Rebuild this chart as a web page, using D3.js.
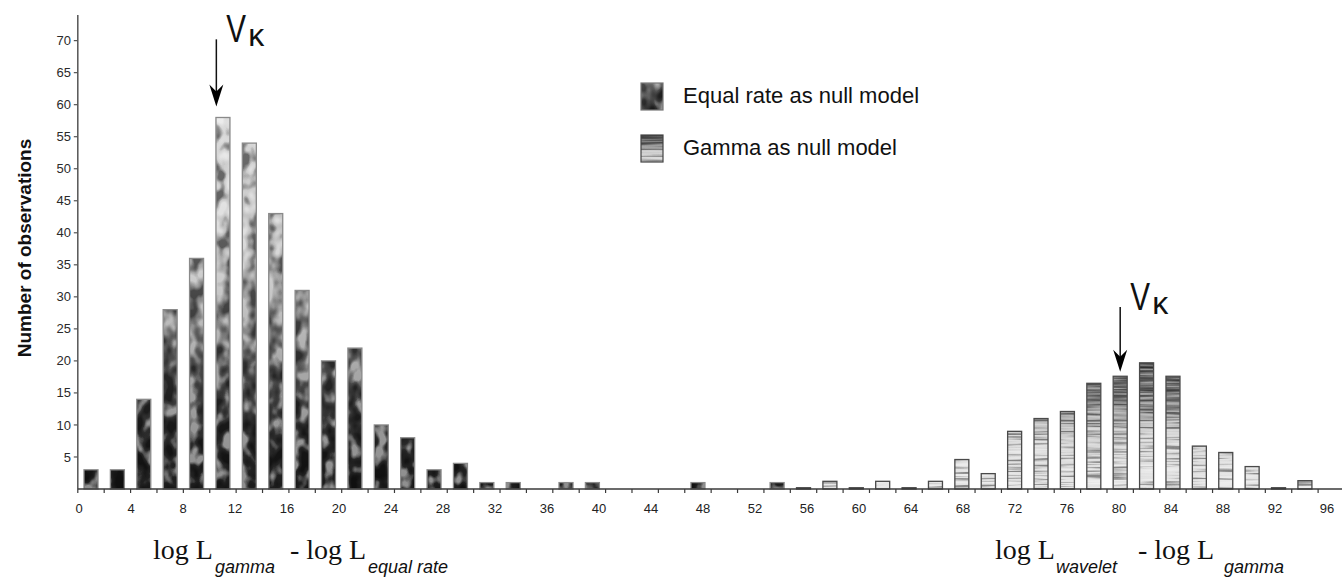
<!DOCTYPE html>
<html>
<head>
<meta charset="utf-8">
<script src="https://cdn.jsdelivr.net/npm/d3@7"></script>
<style>
  html, body { margin: 0; padding: 0; background: #fff; }
  svg { display: block; font-family: "Liberation Sans", Arial, sans-serif; }
</style>
</head>
<body>
<svg id="chart" width="1342" height="579"></svg>
<script>
// Histogram bins of width 2: bin i covers [2i, 2i + 2)
const binStarts = d3.range(0, 96, 2);

// log L(gamma) - log L(equal rate): counts for bins starting at 0
const equalRate = [3, 3, 14, 28, 36, 58, 54, 43, 31, 20, 22, 10, 8, 3, 4, 1, 1, 0, 1, 1, 0, 0, 0, 1, 0, 0, 1];

// log L(wavelet) - log L(gamma): counts for bins starting at bin index 27
const gammaStartBin = 27;
const gammaNull = [0.2, 1.2, 0.2, 1.2, 0.2, 1.2, 4.6, 2.4, 9, 11, 12.1, 16.5, 17.6, 19.7, 17.6, 6.7, 5.7, 3.5, 0.2, 1.3];

const yTickValues = d3.range(5, 75, 5);
const xLabelValues = d3.range(0, 97, 4);

const legendLabels = ["Equal rate as null model", "Gamma as null model"];

// V-kappa markers: position on the bin axis, arrow tip and arrow tail (count units)
const vKappaAt = [10.5, 79];
const vKappaTip = [59.7, 18.3];
const vKappaTail = [70.2, 28.4];

// ---------------------------------------------------------------------------
const W = 1342, H = 579;
const svg = d3.select("#chart");
const defs = svg.append("defs");

const y = d3.scaleLinear().domain([0, 74]).range([489, 15]);
// bar positions (bins) and printed tick labels use slightly different spacing
const xBin = d3.scaleLinear().domain([0, 96]).range([77.8, 1344.5]);
const xLab = d3.scaleLinear().domain([0, 96]).range([79, 1327]);

const bars = [];
binStarts.forEach((s, i) => {
  if (i < equalRate.length && equalRate[i] > 0) bars.push({ start: s, value: equalRate[i], series: "eq" });
  const g = i - gammaStartBin;
  if (g >= 0 && g < gammaNull.length && gammaNull[g] > 0) bars.push({ start: s, value: gammaNull[g], series: "gm" });
});

// --- fills -----------------------------------------------------------------
function addGradient(id, stops) {
  const top = stops[stops.length - 1][0];
  const g = defs.append("linearGradient").attr("id", id)
    .attr("gradientUnits", "userSpaceOnUse")
    .attr("x1", 0).attr("x2", 0).attr("y1", y(0)).attr("y2", y(top));
  stops.forEach(([v, c]) => g.append("stop").attr("offset", v / top).attr("stop-color", c));
}
addGradient("eqFill", [[0, "#1e1e1e"], [10, "#303030"], [20, "#565656"], [30, "#8c8c8c"], [40, "#bdbdbd"], [58, "#dadada"]]);
addGradient("gmFill", [[0, "#e3e3e3"], [6, "#dadada"], [9, "#c8c8c8"], [12, "#9c9c9c"], [15, "#6c6c6c"], [20, "#474747"]]);

function addTexture(id, freq, octaves, seed, contrast, amount) {
  const f = defs.append("filter").attr("id", id)
    .attr("x", 0).attr("y", 0).attr("width", 1).attr("height", 1)
    .attr("color-interpolation-filters", "sRGB");
  f.append("feTurbulence").attr("type", "fractalNoise").attr("baseFrequency", freq)
    .attr("numOctaves", octaves).attr("seed", seed).attr("result", "noise");
  const k = contrast, c = 0.5 - contrast * 0.5;
  f.append("feColorMatrix").attr("in", "noise").attr("type", "matrix")
    .attr("values", `${k} 0 0 0 ${c}  ${k} 0 0 0 ${c}  ${k} 0 0 0 ${c}  0 0 0 0 1`)
    .attr("result", "gray");
  f.append("feBlend").attr("in", "gray").attr("in2", "SourceGraphic").attr("mode", "hard-light").attr("result", "mix");
  f.append("feComposite").attr("in", "mix").attr("in2", "SourceGraphic").attr("operator", "arithmetic")
    .attr("k2", amount).attr("k3", 1 - amount).attr("result", "soft");
  f.append("feComposite").attr("in", "soft").attr("in2", "SourceAlpha").attr("operator", "in");
}
addTexture("mottle", "0.08 0.06", 2, 4, 2.6, 0.5);
addTexture("streaks", "0.015 0.45", 2, 9, 2.2, 0.4);

// --- axes --------------------------------------------------------------------
const axisColor = "#3a3a3a";

// y axis
svg.append("line")
  .attr("x1", xBin(0)).attr("x2", xBin(0))
  .attr("y1", y(74)).attr("y2", y(0))
  .attr("stroke", "#555").attr("stroke-width", 1.5);
const yt = svg.append("g").selectAll("g").data(yTickValues).join("g")
  .attr("transform", d => `translate(0,${y(d)})`);
yt.append("line").attr("x1", xBin(0) - 4).attr("x2", xBin(0)).attr("stroke", "#555").attr("stroke-width", 1.2);
yt.append("text").attr("x", 71).attr("dy", "0.35em").attr("text-anchor", "end")
  .attr("font-size", 13).attr("fill", "#2a2a2a").text(d => d);

svg.append("text")
  .attr("transform", `translate(31,${248}) rotate(-90)`)
  .attr("text-anchor", "middle").attr("font-size", 19).attr("font-weight", "bold")
  .attr("fill", "#111").text("Number of observations");

// bars
const barW = 14;
const barG = svg.append("g");
barG.selectAll("rect.fill").data(bars).join("rect").attr("class", "fill")
  .attr("x", d => xBin(d.start + 1) - barW / 2)
  .attr("y", d => y(d.value))
  .attr("width", barW)
  .attr("height", d => y(0) - y(d.value))
  .attr("fill", d => d.series === "eq" ? "url(#eqFill)" : "url(#gmFill)")
  .attr("filter", d => d.series === "eq" ? "url(#mottle)" : "url(#streaks)");
barG.selectAll("rect.edge").data(bars).join("rect").attr("class", "edge")
  .attr("x", d => xBin(d.start + 1) - barW / 2)
  .attr("y", d => y(d.value))
  .attr("width", barW)
  .attr("height", d => y(0) - y(d.value))
  .attr("fill", "none")
  .attr("stroke", d => d.series === "eq" ? "#8a8a8a" : "#4a4a4a")
  .attr("stroke-width", 1.3);

// x axis
svg.append("line")
  .attr("x1", xBin(0)).attr("x2", W)
  .attr("y1", y(0)).attr("y2", y(0))
  .attr("stroke", axisColor).attr("stroke-width", 1.4);
svg.append("g").selectAll("line").data(binStarts).join("line")
  .attr("x1", d => xBin(d)).attr("x2", d => xBin(d))
  .attr("y1", y(0)).attr("y2", y(0) + 4)
  .attr("stroke", axisColor).attr("stroke-width", 1.2);
svg.append("g").selectAll("text").data(xLabelValues).join("text")
  .attr("x", d => xLab(d)).attr("y", 512.5)
  .attr("text-anchor", "middle").attr("font-size", 13).attr("fill", "#222")
  .text(d => d);

// --- V-kappa arrows ---------------------------------------------------------
const vk = svg.append("g");
vKappaAt.forEach((v, i) => {
  const x = xBin(v), tip = y(vKappaTip[i]), tail = y(vKappaTail[i]);
  vk.append("line").attr("x1", x).attr("x2", x).attr("y1", tail).attr("y2", tip - 10)
    .attr("stroke", "#111").attr("stroke-width", 1.5);
  vk.append("path")
    .attr("d", `M${x},${tip} L${x - 7},${tip - 22} L${x},${tip - 15} L${x + 7},${tip - 22} Z`)
    .attr("fill", "#000");
  const tx = x + 10, ty = tail + 3;
  vk.append("text").attr("transform", `translate(${tx},${ty}) scale(0.76,1)`)
    .attr("font-size", 39).attr("fill", "#111").text("V");
  vk.append("text").attr("x", tx + 22).attr("y", ty + 4)
    .attr("font-size", 32).attr("fill", "#111").text("κ");
});

// --- legend ----------------------------------------------------------------
const gl = defs.append("linearGradient").attr("id", "gmLegend").attr("x1", 0).attr("x2", 0).attr("y1", 0).attr("y2", 1);
[[0, "#3c3c3c"], [0.35, "#7a7a7a"], [0.6, "#c8c8c8"], [1, "#e0e0e0"]].forEach(([o, c]) => gl.append("stop").attr("offset", o).attr("stop-color", c));
const el = defs.append("linearGradient").attr("id", "eqLegend").attr("x1", 0).attr("x2", 1).attr("y1", 0).attr("y2", 1);
[[0, "#9a9a9a"], [0.45, "#555"], [1, "#1a1a1a"]].forEach(([o, c]) => el.append("stop").attr("offset", o).attr("stop-color", c));

const legendRows = [
  { label: legendLabels[0], fill: "url(#eqLegend)", filter: "url(#mottle)", stroke: "#777", top: 83 },
  { label: legendLabels[1], fill: "url(#gmLegend)", filter: "url(#streaks)", stroke: "#444", top: 135 }
];
const legend = svg.append("g");
const lr = legend.selectAll("g").data(legendRows).join("g");
lr.append("rect").attr("x", 641).attr("y", d => d.top).attr("width", 22).attr("height", 27)
  .attr("fill", d => d.fill).attr("filter", d => d.filter);
lr.append("rect").attr("x", 641).attr("y", d => d.top).attr("width", 22).attr("height", 27)
  .attr("fill", "none").attr("stroke", d => d.stroke).attr("stroke-width", 1.2);
lr.append("text").attr("x", 683).attr("y", d => d.top + 20)
  .attr("font-size", 22).attr("fill", "#111").text(d => d.label);

// --- formula captions under the axis ------------------------------------------
function caption(parts) {
  const g = svg.append("g");
  parts.forEach(p => {
    g.append("text").attr("x", p.x).attr("y", p.sub ? 573 : 559)
      .attr("font-family", p.sub ? "'Liberation Sans', Arial, sans-serif" : "'Liberation Serif', 'Times New Roman', serif")
      .attr("font-style", p.sub ? "italic" : "normal")
      .attr("font-size", p.sub ? 18 : 28)
      .attr("fill", "#111").text(p.t);
  });
}
caption([
  { t: "log L", x: 153 }, { t: "gamma", x: 215, sub: true },
  { t: "- log L", x: 290 }, { t: "equal rate", x: 368, sub: true }
]);
caption([
  { t: "log L", x: 995 }, { t: "wavelet", x: 1056, sub: true },
  { t: "- log L", x: 1138 }, { t: "gamma", x: 1224, sub: true }
]);
</script>
</body>
</html>
